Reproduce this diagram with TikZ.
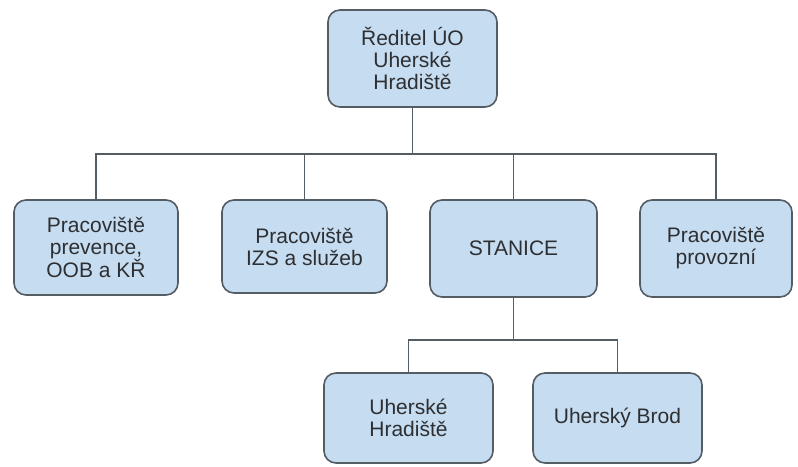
\documentclass[tikz,border=0pt]{standalone}
\usepackage{fontspec}
\setmainfont{Liberation Sans}
\usepackage{tikz}
\usetikzlibrary{positioning}
\definecolor{UOBlue}{RGB}{198,220,240}
\definecolor{UOLine}{RGB}{84,92,100}
\definecolor{UOText}{RGB}{45,47,50}

\begin{document}
\begin{tikzpicture}[
                x=1pt, y=-1pt,
                % box of the organisation chart
                unit/.style={draw=UOLine, fill=UOBlue, line width=1.6pt, rounded corners=12pt,
                    align=center, text=UOText, inner sep=0pt,
                    font=\fontsize{21}{22}\selectfont},
                link/.style={draw=UOLine, line width=1.6pt}
            ]
                \useasboundingbox (0,0) rectangle (798,466);
                % Level 1
                \node[unit, minimum width=169pt, minimum height=97pt] (top) at (412.5,58.5) {Ředitel ÚO\\Uherské\\Hradiště};
                % Level 2
                \node[unit, minimum width=164pt, minimum height=95pt] (prev) at (96,247.5) {Pracoviště\\prevence,\\OOB a KŘ};
                \node[unit, minimum width=165pt, minimum height=93pt] (izs) at (304.5,246.5) {Pracoviště\\IZS a služeb};
                \node[unit, minimum width=167pt, minimum height=97pt] (stan) at (513.5,248.5) {STANICE};
                \node[unit, minimum width=152pt, minimum height=97pt] (prov) at (716,248.5) {Pracoviště\\provozní};
                % Level 3
                \node[unit, minimum width=169pt, minimum height=90pt] (uh) at (408.5,418) {Uherské\\Hradiště};
                \node[unit, minimum width=169pt, minimum height=90pt] (ub) at (617.5,418) {Uherský Brod};

                % Connectors
                \draw[link] (top.south) -- ++(0,46) -| (prev.north);
                \draw[link] (top.south) -- ++(0,46) -| (izs.north);
                \draw[link] (top.south) -- ++(0,46) -| (stan.north);
                \draw[link] (top.south) -- ++(0,46) -| (prov.north);
                \draw[link] (stan.south) -- ++(0,42) -| (uh.north);
                \draw[link] (stan.south) -- ++(0,42) -| (ub.north);

            \end{tikzpicture}
\end{document}
